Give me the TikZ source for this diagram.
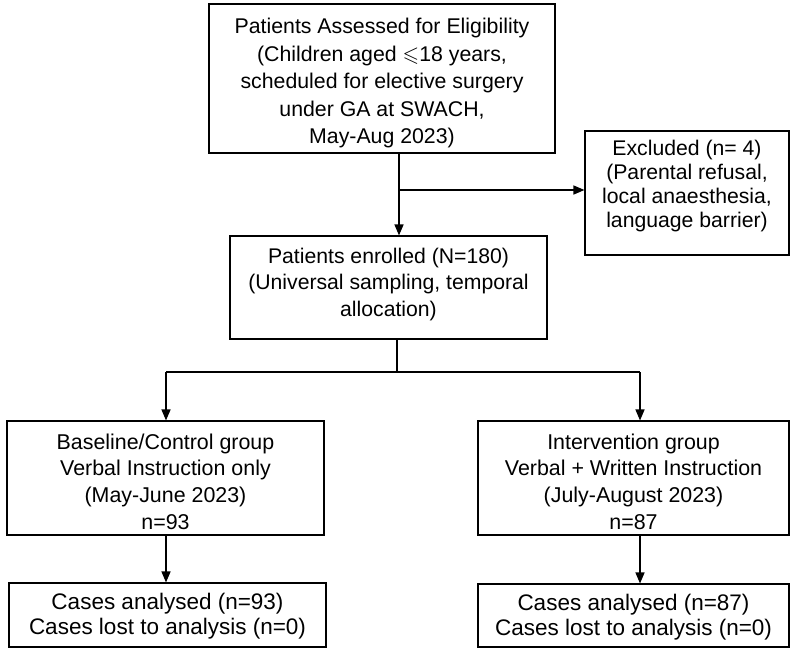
\documentclass[tikz,border=0pt]{standalone}
\usepackage{fontspec}
\usepackage{amssymb}
\setmainfont{Liberation Sans}
\usetikzlibrary{arrows.meta,calc}
\begin{document}
\begin{tikzpicture}[x=1pt,y=-1pt,
  box/.style={draw=black,line width=1.1pt,inner sep=0pt},
  txt/.style={align=center,inner sep=0pt,font=\fontsize{21.3}{27.5}\selectfont},
  conn/.style={line width=1.4pt},
  arr/.style={line width=1.4pt,-{Triangle[length=11pt,width=9pt]}}]
\useasboundingbox (0,0) rectangle (791,649);
\fill[white] (0,0) rectangle (791,649);
% boxes
\node[box,minimum width=346pt,minimum height=149pt] (top) at (382,78.5) {};
\node[box,minimum width=204pt,minimum height=124pt] (excl) at (687,193) {};
\node[box,minimum width=317pt,minimum height=103pt] (enr) at (388.5,287.5) {};
\node[box,minimum width=317pt,minimum height=114pt] (ctrl) at (165.5,478) {};
\node[box,minimum width=311pt,minimum height=114pt] (intv) at (633.5,478) {};
\node[box,minimum width=317pt,minimum height=64pt] (ca) at (167.5,615) {};
\node[box,minimum width=311pt,minimum height=63pt] (cb) at (633.5,615.5) {};
% texts
\node[txt] (toptext) at ($(top)+(0,4.5)$)
  {Patients Assessed for Eligibility\\(Children aged $\leqslant$18 years,\\scheduled for elective surgery\\under GA at SWACH,\\May-Aug 2023)};
\node[txt,font=\fontsize{21.2}{23.8}\selectfont] (excltext) at ($(excl)+(0,-7)$)
  {Excluded (n= 4)\\(Parental refusal,\\local anaesthesia,\\language barrier)};
\node[txt,font=\fontsize{21.2}{26.8}\selectfont] (enrtext) at ($(enr)+(0,-3)$)
  {Patients enrolled (N=180)\\(Universal sampling, temporal\\allocation)};
\node[txt,font=\fontsize{21.4}{26.6}\selectfont] (ctrltext) at ($(ctrl)+(0,3.5)$)
  {Baseline/Control group\\Verbal Instruction only\\(May-June 2023)\\n=93};
\node[txt,font=\fontsize{21.4}{26.6}\selectfont] (intvtext) at ($(intv)+(0,3.5)$)
  {Intervention group\\Verbal + Written Instruction\\(July-August 2023)\\n=87};
\node[txt,font=\fontsize{22.5}{25}\selectfont] (catext) at ($(ca)+(0,1.5)$)
  {Cases analysed (n=93)\\Cases lost to analysis (n=0)};
\node[txt,font=\fontsize{22.5}{25}\selectfont] (cbtext) at ($(cb)+(0,1.5)$)
  {Cases analysed (n=87)\\Cases lost to analysis (n=0)};
% connectors
\coordinate (j1) at (399,190);
\coordinate (j2) at (397,372);
\coordinate (jl) at (166,372);
\coordinate (jr) at (640,372);
\draw[conn] (top.south -| j1) -- (j1);
\draw[arr] (j1) -- (j1 |- enr.north);
\draw[arr] (j1) -- (j1 -| excl.west);
\draw[conn] (enr.south -| j2) -- (j2);
\draw[conn] (jl) -- (jr);
\draw[arr] (jl) -- (jl |- ctrl.north);
\draw[arr] (jr) -- (jr |- intv.north);
\draw[arr] (ctrl.south -| jl) -- (jl |- ca.north);
\draw[arr] (intv.south -| jr) -- (jr |- cb.north);
\end{tikzpicture}
\end{document}
